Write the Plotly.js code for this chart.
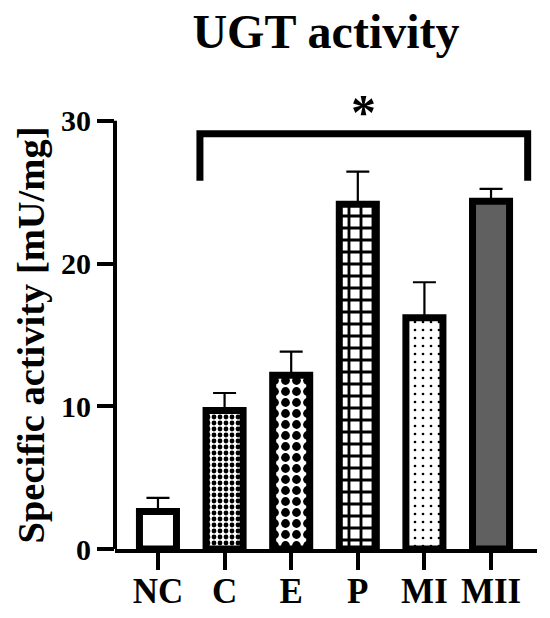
<!DOCTYPE html>
<html>
<head>
<meta charset="utf-8">
<script src="https://cdn.plot.ly/plotly-3.0.1.min.js"></script>
<style>html,body{margin:0;padding:0;background:#fff;}#chart{width:550px;height:618px;}</style>
</head>
<body>
<div id="chart"></div>
<script>
// ---- data ----
const categories = ['NC', 'C', 'E', 'P', 'MI', 'MII'];
const activity = [2.63, 9.71, 12.18, 24.16, 16.2, 24.37];
const sdUpper = [0.95, 1.22, 1.65, 2.28, 2.49, 0.86];
const yTickValues = [0, 10, 20, 30];
const yTickLabels = ['0', '10', '20', '30'];
const yTitle = 'Specific activity [mU/mg]';
const chartTitle = 'UGT activity';
// significance bracket (category index units, data units)
const sigLabel = '*';
const sigFromIndex = 0.63, sigToIndex = 5.55;
const sigTop = 29.1, sigLegBottom = 25.8, sigLabelY = 30.6;

// ---- styles ----
const patternShapes = ['', '.', '.', '+', '.', '.'];
const patternSizes = [8, 6, 11, 12, 8, 8];
const patternSolidity = [0.3, 0.5, 0.5, 0.42, 0.09, 0.3];
const patternFg = ['#000', '#000', '#000', '#000', '#000', '#606060'];
const patternBg = ['#fff', '#fff', '#fff', '#fff', '#fff', '#606060'];

const serifBold = {family: 'Liberation Serif, Times New Roman, serif', color: '#000', weight: 'bold'};

const trace = {
  type: 'bar',
  x: categories,
  y: activity,
  width: 0.556,
  marker: {
    color: '#ffffff',
    line: {color: '#000', width: 7},
    pattern: {
      shape: patternShapes,
      size: patternSizes,
      solidity: patternSolidity,
      fgcolor: patternFg,
      bgcolor: patternBg,
      fgopacity: 1,
      fillmode: 'replace'
    }
  },
  error_y: {
    type: 'data',
    symmetric: false,
    array: sdUpper,
    arrayminus: categories.map(() => 0),
    color: '#000',
    thickness: 2.2,
    width: 11.5
  },
  hoverinfo: 'skip',
  showlegend: false
};

const layout = {
  width: 550,
  height: 618,
  margin: {l: 115, r: 13, t: 78, b: 69, pad: 0},
  paper_bgcolor: '#fff',
  plot_bgcolor: '#fff',
  title: {
    text: chartTitle,
    font: Object.assign({}, serifBold, {size: 48}),
    x: 0.5, xref: 'paper', xanchor: 'center',
    y: 0.95, yref: 'container', yanchor: 'middle'
  },
  xaxis: {
    type: 'category',
    range: [-0.645, 5.69],
    showline: true, linecolor: '#000', linewidth: 4,
    ticks: 'outside', ticklen: 17, tickwidth: 4, tickcolor: '#000',
    ticklabelstandoff: -9,
    tickfont: Object.assign({}, serifBold, {size: 35}),
    showgrid: false, zeroline: false, fixedrange: true
  },
  yaxis: {
    range: [0, 33],
    showline: false,
    tickvals: yTickValues, ticktext: yTickLabels,
    ticks: 'outside', ticklen: 17, tickwidth: 4, tickcolor: '#000',
    tickfont: Object.assign({}, serifBold, {size: 30}),
    showgrid: false, zeroline: false, fixedrange: true
  },
  shapes: [
    {type: 'line', xref: 'paper', yref: 'y', x0: 0, x1: 0, y0: 0, y1: yTickValues[yTickValues.length - 1],
     line: {color: '#000', width: 4}},
    {type: 'path', xref: 'x', yref: 'y',
     path: `M ${sigFromIndex} ${sigLegBottom} L ${sigFromIndex} ${sigTop} L ${sigToIndex} ${sigTop} L ${sigToIndex} ${sigLegBottom}`,
     line: {color: '#000', width: 7}}
  ],
  annotations: [
    {text: sigLabel, xref: 'x', yref: 'y', x: (sigFromIndex + sigToIndex) / 2, y: sigLabelY,
     showarrow: false, font: Object.assign({}, serifBold, {size: 50}), yanchor: 'middle'},
    {text: yTitle, xref: 'paper', yref: 'y', x: -0.2, y: 15, textangle: -90,
     showarrow: false, xanchor: 'center', yanchor: 'middle',
     font: Object.assign({}, serifBold, {size: 38.5})}
  ]
};

Plotly.newPlot('chart', [trace], layout, {displayModeBar: false, staticPlot: true});
</script>
</body>
</html>
